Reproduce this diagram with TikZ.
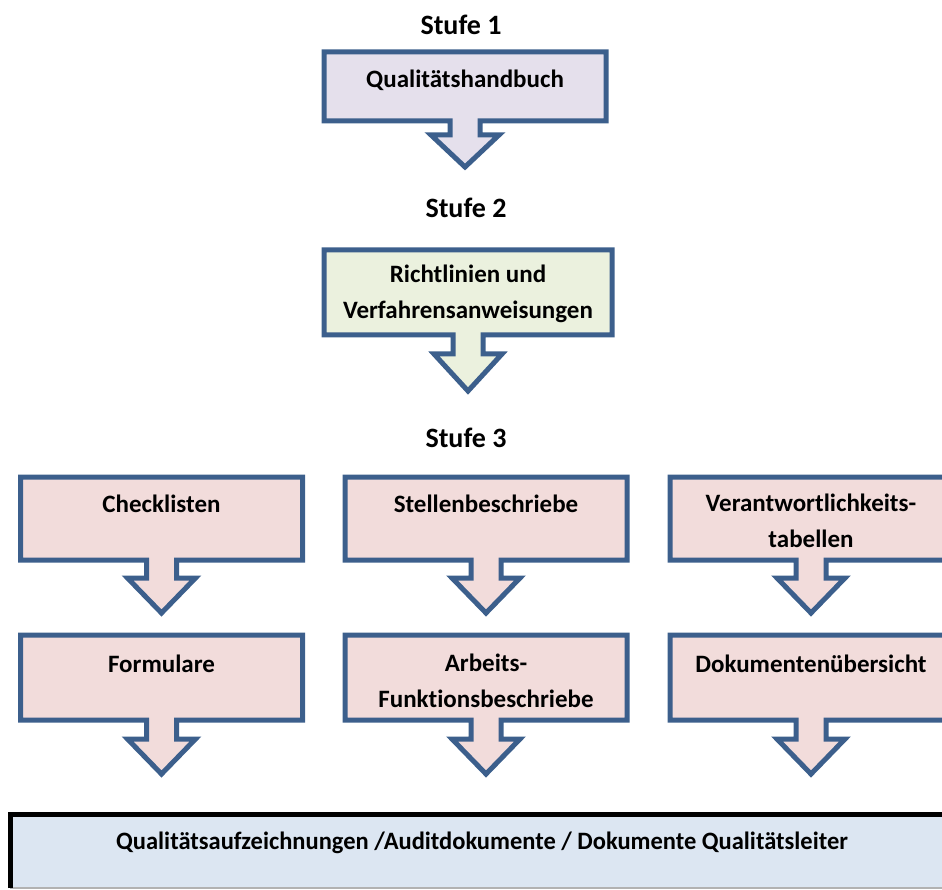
\documentclass[tikz,border=0pt]{standalone}
\usepackage{fontspec}
\usepackage{graphicx}
\setmainfont{Carlito}[Ligatures=NoCommon]
\usetikzlibrary{calc}
\pgfdeclarelayer{bg}
\pgfsetlayers{bg,main}
\definecolor{edge}{HTML}{3C5F8C}
\definecolor{lilac}{HTML}{E5E0EC}
\definecolor{sage}{HTML}{EBF1DE}
\definecolor{rose}{HTML}{F2DCDB}
\definecolor{sky}{HTML}{DCE6F2}
\tikzset{
  docbox/.style={minimum width=282pt, inner sep=0pt, outer sep=0pt},
  outline/.style={draw=edge, line width=5pt, line join=miter},
  doctext/.style={font=\bfseries\fontsize{25}{36}\selectfont, align=center, inner sep=0pt, anchor=north},
  stage/.style={font=\bfseries\fontsize{28}{32}\selectfont, inner sep=0pt},
}
% box outline with a downward block arrow below it
% #1 node, #2 fill, #3 stem length, #4 head length
\newcommand\docarrow[4]{%
  \begin{pgfonlayer}{bg}
    \filldraw[outline, fill=#2]
      (#1.north west) -- (#1.north east) -- (#1.south east)
      -- ($(#1.south)+(15,0)$) -- ++(0,#3) -- ++(19,0)
      -- ($(#1.south)+(0,#3+#4)$)
      -- ($(#1.south)+(-34,#3)$) -- ++(19,0)
      -- ($(#1.south)+(-15,0)$) -- (#1.south west) -- cycle;
  \end{pgfonlayer}}
\begin{document}
\begin{tikzpicture}[x=1pt, y=-1pt]
\useasboundingbox (0,0) rectangle (942,890);
\clip (0,0) rectangle (942,890);

% stage headings
\node[stage] (s1) at (461,25) {Stufe 1};
\node[stage] (s2) at (466,208) {Stufe 2};
\node[stage] (s3) at (466,438) {Stufe 3};

% stage 1
\node[docbox, minimum height=69pt] (b1) at (465,86.5) {};
\node[doctext] (tb1) at ($(b1.north)+(0,18)$) {Qualitätshandbuch};
\docarrow{b1}{lilac}{14}{32}

% stage 2
\node[docbox, minimum width=288pt, minimum height=85pt] (b2) at (468,292.5) {};
\node[doctext] (tb2) at ($(b2.north)+(0,15)$) {Richtlinien und\\Verfahrensanweisungen};
\docarrow{b2}{sage}{19}{37}

% stage 3, first row
\node[docbox, minimum height=83pt] (c1) at (161.5,518.5) {};
\node[docbox, minimum height=83pt] (c2) at (486,518.5) {};
\node[docbox, minimum height=83pt] (c3) at (811,518.5) {};
\node[doctext] (tc1) at ($(c1.north)+(0,18)$) {Checklisten};
\node[doctext] (tc2) at ($(c2.north)+(0,18)$) {Stellenbeschriebe};
\node[doctext] (tc3) at ($(c3.north)+(0,17)$) {Verantwortlichkeits-\\tabellen};
\docarrow{c1}{rose}{18}{35}
\docarrow{c2}{rose}{18}{35}
\docarrow{c3}{rose}{18}{35}

% stage 3, second row
\node[docbox, minimum height=85pt] (d1) at (161.5,677.5) {};
\node[docbox, minimum height=85pt] (d2) at (486,677.5) {};
\node[docbox, minimum height=85pt] (d3) at (811,677.5) {};
\node[doctext] (td1) at ($(d1.north)+(0,20)$) {Formulare};
\node[doctext] (td2) at ($(d2.north)+(0,19)$) {Arbeits-\\Funktionsbeschriebe};
\node[doctext] (td3) at ($(d3.north)+(0,20)$) {Dokumentenübersicht};
\docarrow{d1}{rose}{19}{35}
\docarrow{d2}{rose}{19}{35}
\docarrow{d3}{rose}{19}{35}

% records
\node[fill=sky, minimum width=950pt, minimum height=74pt, inner sep=0pt, outer sep=0pt] (qa) at (485,851) {};
\draw[gray!60, line width=1.5pt] (qa.south west) -- (qa.south east);
\draw[black, line width=5pt, line join=miter] (qa.south west) -- (qa.north west) -- (qa.north east);
\node[font=\bfseries\fontsize{25}{28}\selectfont, inner sep=0pt] (tqa) at (482,843)
  {\scalebox{0.98}[1]{Qualitätsaufzeichnungen /Auditdokumente / Dokumente Qualitätsleiter}};
\end{tikzpicture}
\end{document}
